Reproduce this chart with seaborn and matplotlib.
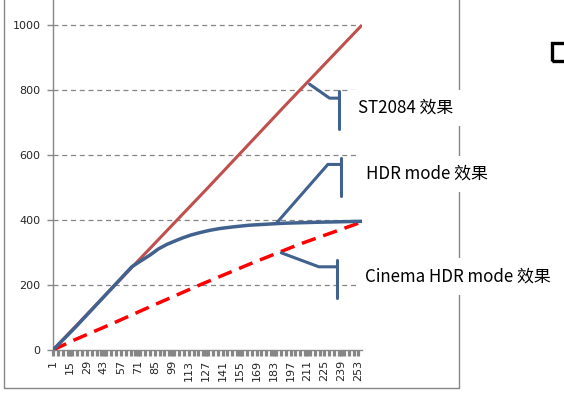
import pandas as pd
import seaborn as sns
import matplotlib.pyplot as plt
from matplotlib.patches import Rectangle

# --- data (category index 1..256, output value) ---
st2084_x = [1, 65, 129, 192, 256]
st2084_y = [0, 250, 500, 750, 1000]

hdr_x = [1, 20, 40, 66, 73, 81, 88, 95, 102, 108, 115, 122, 130, 139, 150, 163, 191, 218, 256]
hdr_y = [0, 72, 152, 256, 273, 292, 311, 325, 336, 345, 354, 361, 368, 374, 379, 384, 390, 393, 396]

cinema_x = [1, 18, 48, 81, 122, 163, 204, 256]
cinema_y = [0, 30, 78, 133, 200, 264, 325, 394]

x_tick_labels = list(range(1, 254, 14))
y_ticks = [0, 200, 400, 600, 800, 1000]

labels = ["ST2084 效果", "HDR mode 效果", "Cinema HDR mode 效果"]

GRAY = "#868686"
BLUE = "#41618f"

sns.set_theme(style="white")
plt.rcParams['font.family'] = ['DejaVu Sans']

fig = plt.figure(figsize=(5.64, 3.94), dpi=100)
ax = fig.add_axes([53 / 564, 44 / 394, 309 / 564, 350 / 394])

df_red = pd.DataFrame({'x': st2084_x, 'y': st2084_y})
df_blue = pd.DataFrame({'x': hdr_x, 'y': hdr_y})
df_dash = pd.DataFrame({'x': cinema_x, 'y': cinema_y})

sns.lineplot(data=df_red, x='x', y='y', ax=ax, color="#c0504d", linewidth=2.2,
             solid_capstyle='butt', zorder=3)
sns.lineplot(data=df_dash, x='x', y='y', ax=ax, color="#ff0000", linewidth=2.5,
             dashes=False, zorder=3)
ax.lines[-1].set_dashes([4.2, 2.3])
sns.lineplot(data=df_blue, x='x', y='y', ax=ax, color=BLUE, linewidth=2.5, zorder=4)

ax.set_xlim(1, 256)
ax.set_ylim(0, 1077)
ax.set_xlabel('')
ax.set_ylabel('')

# grid
for v in y_ticks[1:]:
    ax.axhline(v, xmin=0, xmax=0.99, color=GRAY, lw=0.9, ls=(0, (4, 3)), zorder=1)

ax.set_yticks(y_ticks)
ax.set_yticklabels([str(v) for v in y_ticks], fontsize=8)
ax.tick_params(axis='y', length=4, width=1, color=GRAY, pad=5, left=True)

# dense category tick band along the bottom
ax.set_xticks(x_tick_labels)
ax.set_xticklabels([str(v) for v in x_tick_labels], rotation=90, fontsize=8)
ax.set_xticks(list(range(1, 257, 4)), minor=True)
ax.tick_params(axis='x', which='both', length=4, width=2.3, color=GRAY, bottom=True, pad=3)

for s in ['top', 'right']:
    ax.spines[s].set_visible(False)
ax.spines['left'].set_color(GRAY)
ax.spines['bottom'].set_color(GRAY)
ax.spines['left'].set_linewidth(1)
ax.spines['bottom'].set_linewidth(1)

# callouts
cw = 2.2
ax.plot([212.7, 229.2, 236.8], [818, 775, 775], color=BLUE, lw=cw, clip_on=False, zorder=5)
ax.plot([236.8, 236.8], [798, 679], color=BLUE, lw=cw, clip_on=False, zorder=5)
ax.plot([185.3, 227.8, 239], [390, 571, 571], color=BLUE, lw=cw, clip_on=False, zorder=5)
ax.plot([239, 239], [592, 474], color=BLUE, lw=cw, clip_on=False, zorder=5)
ax.plot([189.4, 220.4, 235.2], [299, 256, 256], color=BLUE, lw=cw, clip_on=False, zorder=5)
ax.plot([235.2, 235.2], [277, 160], color=BLUE, lw=cw, clip_on=False, zorder=5)

txt_font = ['Noto Sans CJK SC', 'DejaVu Sans']
for (tx, ty), lab in zip([(253, 745), (259.4, 542), (258.8, 226)], labels):
    ax.text(tx, ty, lab, ha='left', va='center', fontsize=12.2, family=txt_font,
            color='black', clip_on=False, zorder=6,
            bbox=dict(boxstyle='square,pad=0.55', fc='white', ec='none'))

# chart area frame and the clipped box at the right edge
fig.patches.append(Rectangle((4 / 564, 6 / 394), 455 / 564, 1.2, transform=fig.transFigure,
                             fill=False, ec=GRAY, lw=1, zorder=-1))
fig.patches.append(Rectangle((552 / 564, 333 / 394), 0.05, 18 / 394, transform=fig.transFigure,
                             fill=False, ec='black', lw=2.4, zorder=2))

plt.savefig('out.png', dpi=100)
plt.close()
